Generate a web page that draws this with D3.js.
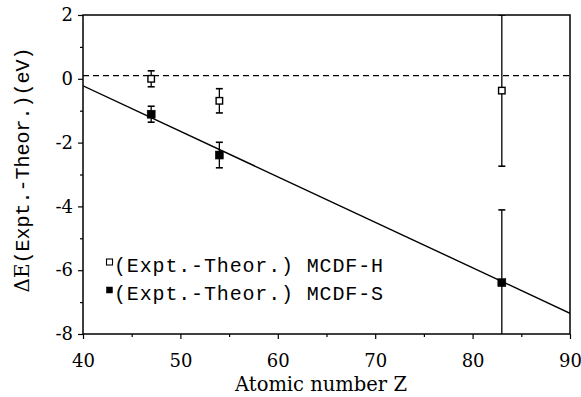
<!DOCTYPE html>
<html><head><meta charset="utf-8">
<script src="https://cdn.jsdelivr.net/npm/d3@7"></script>
<style>body{margin:0;background:#fff}svg{display:block}</style>
</head><body>
<svg id="c" width="581" height="397"></svg>
<script>
// ---- data ----
const zH = [47, 54, 83];
const dH = [0.0, -0.69, -0.37];
const eH = [0.25, 0.38, 2.37];
const zS = [47, 54, 83];
const dS = [-1.11, -2.39, -6.39];
const eS = [0.25, 0.40, 2.28];
const fitZ = [40, 90];
const fitD = [-0.22, -7.35];
const refZ = [40, 90];
const refD = [0.1, 0.1];
const xTicks = [40, 50, 60, 70, 80, 90];
const xMinor = [45, 55, 65, 75, 85];
const yTicks = [2, 0, -2, -4, -6, -8];
const yMinor = [1, -1, -3, -5, -7];
const legendLabels = ["(Expt.-Theor.) MCDF-H", "(Expt.-Theor.) MCDF-S"];

const svg = d3.select("#c");
const L = 83, R = 570, T = 15, B = 334;
const x = d3.scaleLinear().domain([40, 90]).range([L, R]);
const y = d3.scaleLinear().domain([-8, 2]).range([B, T]);
const serif = "DejaVu Serif";
const mono = "Liberation Mono";
const fmt = d => String(d);

svg.append("defs").append("clipPath").attr("id", "clip")
  .append("rect").attr("x", L).attr("y", T).attr("width", R - L).attr("height", B - T);

// axes
svg.append("g").attr("transform", `translate(0,${B})`)
  .call(d3.axisBottom(x).tickValues(xTicks).tickSize(5).tickPadding(15).tickFormat(fmt));
svg.append("g").attr("transform", `translate(0,${B})`)
  .call(d3.axisBottom(x).tickValues(xMinor).tickSize(3).tickFormat(""));
svg.append("g").attr("transform", `translate(${L},0)`)
  .call(d3.axisLeft(y).tickValues(yTicks).tickSize(5).tickPadding(5).tickFormat(fmt));
svg.append("g").attr("transform", `translate(${L},0)`)
  .call(d3.axisLeft(y).tickValues(yMinor).tickSize(3).tickFormat(""));
svg.selectAll(".domain").remove();
svg.selectAll(".tick line").attr("stroke", "#000").attr("stroke-width", 1.2);
svg.selectAll(".tick text").attr("font-family", serif).attr("font-size", 18).attr("fill", "#000");

// frame
svg.append("rect").attr("x", L).attr("y", T).attr("width", R - L).attr("height", B - T)
  .attr("fill", "none").attr("stroke", "#000").attr("stroke-width", 1.5);

const plot = svg.append("g").attr("clip-path", "url(#clip)");
const line = d3.line().x(d => x(d[0])).y(d => y(d[1]));

plot.append("path").datum(refZ.map((z, i) => [z, refD[i]])).attr("d", line)
  .attr("fill", "none").attr("stroke", "#000").attr("stroke-width", 1.3).attr("stroke-dasharray", "6,4");
plot.append("path").datum(fitZ.map((z, i) => [z, fitD[i]])).attr("d", line)
  .attr("fill", "none").attr("stroke", "#000").attr("stroke-width", 1.4);

function series(zs, ds, es, filled) {
  const g = plot.append("g");
  zs.forEach((z, i) => {
    const cx = x(z), y1 = y(ds[i] + es[i]), y2 = y(ds[i] - es[i]);
    g.append("line").attr("x1", cx).attr("x2", cx).attr("y1", y1).attr("y2", y2)
      .attr("stroke", "#000").attr("stroke-width", 1.3);
    [y1, y2].forEach(yy => g.append("line").attr("x1", cx - 3.5).attr("x2", cx + 3.5)
      .attr("y1", yy).attr("y2", yy).attr("stroke", "#000").attr("stroke-width", 1.6));
    const s = filled ? 8 : 6.5;
    g.append("rect").attr("x", cx - s / 2).attr("y", y(ds[i]) - s / 2).attr("width", s).attr("height", s)
      .attr("fill", filled ? "#000" : "#fff").attr("stroke", "#000").attr("stroke-width", filled ? 0.5 : 1.4);
  });
}
series(zH, dH, eH, false);
series(zS, dS, eS, true);

// legend
const legY = [272, 300];
legendLabels.forEach((t, i) => {
  svg.append("rect").attr("x", 106.5).attr("y", legY[i] - 13).attr("width", 6).attr("height", 6)
    .attr("fill", i === 0 ? "#fff" : "#000").attr("stroke", "#000").attr("stroke-width", i === 0 ? 1.1 : 0.5);
  svg.append("text").attr("x", 114).attr("y", legY[i]).attr("font-family", mono).attr("font-size", 20)
    .attr("textLength", 269).attr("lengthAdjust", "spacing").text(t);
});

// axis titles
svg.append("text").attr("x", 321).attr("y", 391).attr("text-anchor", "middle")
  .attr("font-family", serif).attr("font-size", 19.5).text("Atomic number Z");
const yl = svg.append("text").attr("transform", "translate(29,170) rotate(-90)").attr("text-anchor", "middle");
yl.append("tspan").attr("font-family", serif).attr("font-size", 20).text("ΔE");
yl.append("tspan").attr("font-family", mono).attr("font-size", 20).text("(Expt.-Theor.)(eV)");
</script>
</body></html>
